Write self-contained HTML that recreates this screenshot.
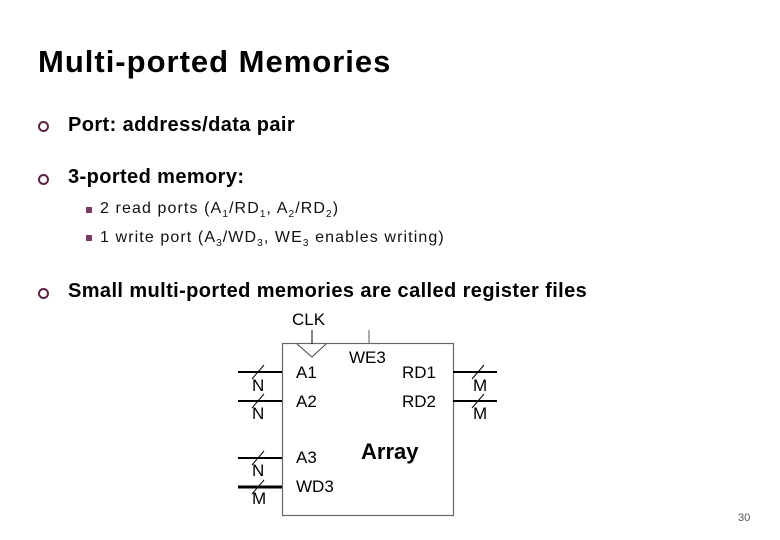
<!DOCTYPE html>
<html><head><meta charset="utf-8"><style>
body{margin:0;width:780px;height:540px;background:#fff;position:relative;overflow:hidden;font-family:"Liberation Sans",sans-serif;}
.t{position:absolute;white-space:nowrap;}
.b{font-weight:bold;font-size:20px;letter-spacing:0.4px;color:#000;}
.c{position:absolute;width:7px;height:7px;border:2px solid #5a2445;border-radius:50%;}
.s{position:absolute;width:6px;height:6px;background:#7a3a60;}
.sub{font-size:16px;letter-spacing:1.1px;color:#111;}
sub{font-size:10px;}
</style></head><body>
<div class="t" style="left:38px;top:44px;font-size:31px;font-weight:bold;letter-spacing:1px">Multi-ported Memories</div>
<div class="c" style="left:38px;top:121px"></div>
<div class="t b" style="left:68px;top:114px">Port: address/data pair</div>
<div class="c" style="left:38px;top:174px"></div>
<div class="t b" style="left:68px;top:166px">3-ported memory:</div>
<div class="s" style="left:86px;top:207px"></div>
<div class="t sub" style="left:100px;top:200px">2 read ports (A<sub>1</sub>/RD<sub>1</sub>, A<sub>2</sub>/RD<sub>2</sub>)</div>
<div class="s" style="left:86px;top:235px"></div>
<div class="t sub" style="left:100px;top:229px">1 write port (A<sub>3</sub>/WD<sub>3</sub>, WE<sub>3</sub> enables writing)</div>
<div class="c" style="left:38px;top:288px"></div>
<div class="t b" style="left:68px;top:280px">Small multi-ported memories are called register files</div>
<svg style="position:absolute;left:0;top:0" width="780" height="540" font-family="Liberation Sans, sans-serif">
<rect x="282.5" y="343.5" width="171" height="172" fill="#fff" stroke="#666" stroke-width="1.2"/>
<text x="292" y="325" font-size="17">CLK</text>
<line x1="312" y1="330" x2="312" y2="344" stroke="#000" stroke-width="1"/>
<polyline points="297,344 312,357 326,344" fill="none" stroke="#444" stroke-width="1"/>
<line x1="369" y1="330" x2="369" y2="343" stroke="#556" stroke-width="1"/>
<g font-size="17">
<text x="349" y="363">WE3</text>
<text x="296" y="378">A1</text>
<text x="296" y="407">A2</text>
<text x="296" y="463">A3</text>
<text x="296" y="492">WD3</text>
<text x="402" y="378">RD1</text>
<text x="402" y="407">RD2</text>
<text x="252" y="391">N</text>
<text x="252" y="419">N</text>
<text x="252" y="476">N</text>
<text x="252" y="504">M</text>
<text x="473" y="391">M</text>
<text x="473" y="419">M</text>
</g>
<text x="361" y="459" font-size="22" font-weight="bold">Array</text>
<g stroke="#000" stroke-width="2">
<line x1="238" y1="372" x2="282" y2="372"/>
<line x1="238" y1="401" x2="282" y2="401"/>
<line x1="238" y1="458" x2="282" y2="458"/>
<line x1="238" y1="487" x2="282" y2="487" stroke-width="3"/>
<line x1="453" y1="372" x2="497" y2="372"/>
<line x1="453" y1="401" x2="497" y2="401"/>
</g>
<g stroke="#000" stroke-width="1">
<line x1="252" y1="379" x2="264" y2="365"/>
<line x1="252" y1="408" x2="264" y2="394"/>
<line x1="252" y1="465" x2="264" y2="451"/>
<line x1="252" y1="494" x2="264" y2="480"/>
<line x1="472" y1="379" x2="484" y2="365"/>
<line x1="472" y1="408" x2="484" y2="394"/>
</g>
<text x="738" y="521" font-size="11" fill="#555">30</text>
</svg>
</body></html>
